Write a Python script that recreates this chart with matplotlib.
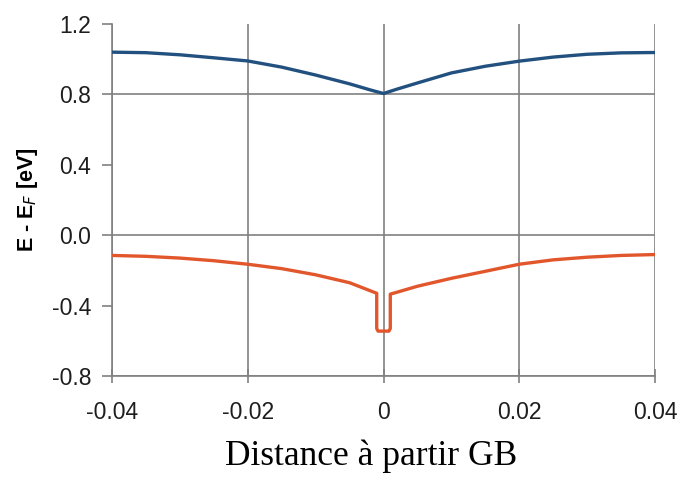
import numpy as np
import matplotlib
matplotlib.use("Agg")
from matplotlib import pyplot as plt

# valeurs
x_cb = [-0.04, -0.035, -0.03, -0.025, -0.02, -0.015, -0.01, -0.005, -0.002, 0.0,
        0.002, 0.005, 0.01, 0.015, 0.02, 0.025, 0.03, 0.035, 0.04]
e_cb = [1.04, 1.037, 1.025, 1.008, 0.99, 0.955, 0.91, 0.86, 0.826, 0.805,
        0.83, 0.865, 0.922, 0.96, 0.989, 1.012, 1.028, 1.036, 1.038]

x_vb = [-0.04, -0.035, -0.03, -0.025, -0.02, -0.015, -0.01, -0.005, -0.001,
        -0.001, -0.001, -0.0008, 0.0008, 0.001, 0.001, 0.001,
        0.005, 0.01, 0.015, 0.02, 0.025, 0.03, 0.035, 0.04]
e_vb = [-0.115, -0.12, -0.13, -0.145, -0.165, -0.19, -0.225, -0.27, -0.33,
        -0.45, -0.53, -0.545, -0.545, -0.53, -0.45, -0.335,
        -0.29, -0.245, -0.205, -0.165, -0.14, -0.125, -0.115, -0.11]

x_ticks = [-0.04, -0.02, 0, 0.02, 0.04]
x_ticklabels = ['-0.04', '-0.02', '0', '0.02', '0.04']
y_ticks = [-0.8, -0.4, 0.0, 0.4, 0.8, 1.2]
y_grid = [-0.8, 0.0, 0.8]

fig = plt.figure(figsize=(6.81, 4.79), dpi=100)
ax = fig.add_axes([112/681, 1-376/479, (655-112)/681, (376-24)/479])

for g in y_grid:
    ax.axhline(g, color='#808080', lw=1.2, zorder=1)
for g in x_ticks:
    ax.axvline(g, color='#808080', lw=1.2, zorder=1)

ax.plot(x_cb, e_cb, color='#22507f', lw=2.4, zorder=3, solid_joinstyle='round')
ax.plot(x_vb, e_vb, color='#e2562c', lw=2.4, zorder=3, solid_joinstyle='round')

ax.set_xlim(-0.04, 0.04)
ax.set_ylim(-0.8, 1.2)
ax.set_xticks(x_ticks)
ax.set_xticklabels(x_ticklabels)
ax.set_yticks(y_ticks)
ax.set_yticklabels(['%.1f' % v for v in y_ticks])

for s in ['top', 'right']:
    ax.spines[s].set_visible(False)
for s in ['left', 'bottom']:
    ax.spines[s].set_color('#808080')
    ax.spines[s].set_linewidth(1.2)

ax.tick_params(axis='x', direction='inout', length=10, width=1.2, color='#808080',
               labelsize=16.5, pad=13)
ax.tick_params(axis='y', direction='out', length=7, width=1.2, color='#808080',
               labelsize=16.5, pad=8)
for lab in ax.get_xticklabels() + ax.get_yticklabels():
    lab.set_fontfamily('Liberation Sans')
    lab.set_color('#1e1e1e')

ax.set_ylabel(r'E - E$_F$ [eV]', fontsize=15.5, fontweight='bold',
              family='Liberation Sans')
ax.yaxis.set_label_coords(-72/543, 0.5)
fig.text(0.545, 0.048, 'Distance à partir GB', ha='center', va='center',
         family='Liberation Serif', fontsize=25.5)

fig.savefig('out.png', dpi=100, facecolor='white')
